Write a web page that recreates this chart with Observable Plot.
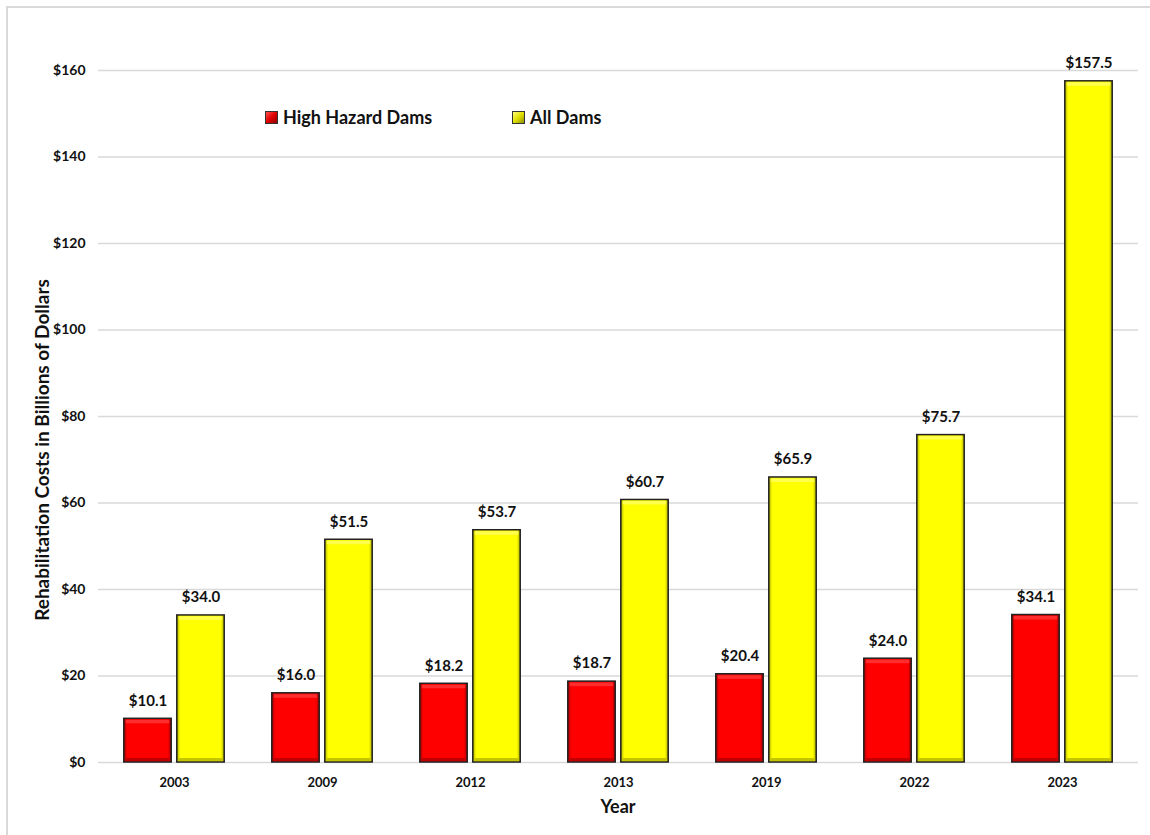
<!DOCTYPE html>
<html><head><meta charset="utf-8">
<script src="https://cdn.jsdelivr.net/npm/d3@7"></script>
<script src="https://cdn.jsdelivr.net/npm/@observablehq/plot@0.6"></script>
<style>
body{margin:0;background:#fff;font-family:Lato,"Open Sans",sans-serif;}
#wrap{position:relative;width:1150px;height:835px;overflow:hidden;background:#fff}
#frame{position:absolute;left:6px;top:6px;width:1300px;height:1000px;border:2px solid #d9d9d9;box-sizing:border-box}
#chart{position:absolute;left:0;top:0}
.lg{position:absolute;top:106px;display:flex;align-items:center;font-weight:bold;font-size:18px;color:#111}
.sw{width:11px;height:11px;border:1px solid #333;margin-right:5px}
#ytitle{position:absolute;left:41px;top:450px;transform:translate(-50%,-50%) rotate(-90deg);white-space:nowrap;font-weight:bold;font-size:19px;color:#111}
#xtitle{position:absolute;left:618px;top:806px;transform:translate(-50%,-50%);font-weight:bold;font-size:18px;color:#111}
</style></head>
<body>
<div id="wrap">
<div id="frame"></div>
<div id="chart"></div>
<div class="lg" style="left:265px"><div class="sw" style="background:linear-gradient(135deg,#ff5050,#e00000 50%,#900000)"></div>High Hazard Dams</div>
<div class="lg" style="left:512px"><div class="sw" style="background:linear-gradient(135deg,#ffff80,#e0e000 50%,#909000)"></div>All Dams</div>
<div id="ytitle">Rehabilitation Costs in Billions of Dollars</div>
<div id="xtitle">Year</div>
</div>
<script>
const years = ["2003","2009","2012","2013","2019","2022","2023"];
const highHazard = [10.1,16.0,18.2,18.7,20.4,24.0,34.1];
const allDams = [34.0,51.5,53.7,60.7,65.9,75.7,157.5];
const yTicks = [0,20,40,60,80,100,120,140,160];

const W = 1150, H = 835, ML = 98, MR = 12, MT = 70, MB = 73;
const bw = (W - ML - MR) / years.length;
const half = bw / 2;
const barW = 48, gap = 5;

const red = years.map((y, i) => ({year: y, value: highHazard[i]}));
const yel = years.map((y, i) => ({year: y, value: allDams[i]}));
const fmt = v => "$" + v.toFixed(1);

const redIn = {insetLeft: half - gap/2 - barW, insetRight: half + gap/2};
const yelIn = {insetLeft: half + gap/2, insetRight: half - gap/2 - barW};
const inner = (o) => ({insetLeft: o.insetLeft + 2, insetRight: o.insetRight + 2});

const plot = Plot.plot({
  width: W, height: H,
  marginLeft: ML, marginRight: MR, marginTop: MT, marginBottom: MB,
  style: {fontFamily: "Lato, 'Open Sans', sans-serif", fontWeight: "bold", color: "#111", background: "transparent"},
  x: {type: "band", domain: years, padding: 0, label: null},
  y: {domain: [0, 160], label: null},
  marks: [
    Plot.ruleY(yTicks, {stroke: "#d9d9d9", strokeWidth: 1.5}),
    Plot.axisY({ticks: yTicks, tickFormat: d => "$" + d, tickSize: 0, tickPadding: 13, fontSize: 14, label: null}),
    Plot.axisX({tickSize: 0, tickPadding: 15, fontSize: 13, label: null}),
    Plot.barY(red, {x: "year", y: "value", fill: "url(#gRed)", ...redIn}),
    Plot.barY(yel, {x: "year", y: "value", fill: "url(#gYel)", ...yelIn}),
    // top bevel highlight
    Plot.barY(red, {x: "year", y1: "value", y2: "value", fill: "#ff2e2e", ...inner(redIn), insetTop: 1.5, insetBottom: -5}),
    Plot.barY(yel, {x: "year", y1: "value", y2: "value", fill: "#ffff4d", ...inner(yelIn), insetTop: 1.5, insetBottom: -5}),
    // bottom bevel shade
    Plot.barY(red, {x: "year", y1: 0, y2: 0, fill: "#c00000", ...inner(redIn), insetTop: -4, insetBottom: 1}),
    Plot.barY(yel, {x: "year", y1: 0, y2: 0, fill: "#c4c400", ...inner(yelIn), insetTop: -4, insetBottom: 1}),
    // outlines
    Plot.barY(red, {x: "year", y: "value", fill: "none", stroke: "#222", strokeWidth: 1.5, ...redIn}),
    Plot.barY(yel, {x: "year", y: "value", fill: "none", stroke: "#222", strokeWidth: 1.5, ...yelIn}),
    Plot.text(red, {x: "year", y: "value", text: d => fmt(d.value), dx: -(gap/2 + barW/2), dy: -18, fontSize: 15, fontWeight: "bold", fill: "#111"}),
    Plot.text(yel, {x: "year", y: "value", text: d => fmt(d.value), dx: (gap/2 + barW/2), dy: -18, fontSize: 15, fontWeight: "bold", fill: "#111"})
  ]
});

const defs = d3.select(plot).insert("defs", ":first-child");
function grad(id, edge, main) {
  const g = defs.append("linearGradient").attr("id", id).attr("x1", 0).attr("x2", 1).attr("y1", 0).attr("y2", 0);
  [[0, edge], [0.07, main], [0.93, main], [1, edge]].forEach(([o, c]) => g.append("stop").attr("offset", o).attr("stop-color", c));
}
grad("gRed", "#9a0000", "#ff0000");
grad("gYel", "#a8a800", "#ffff00");

document.getElementById("chart").appendChild(plot);
</script>
</body></html>
